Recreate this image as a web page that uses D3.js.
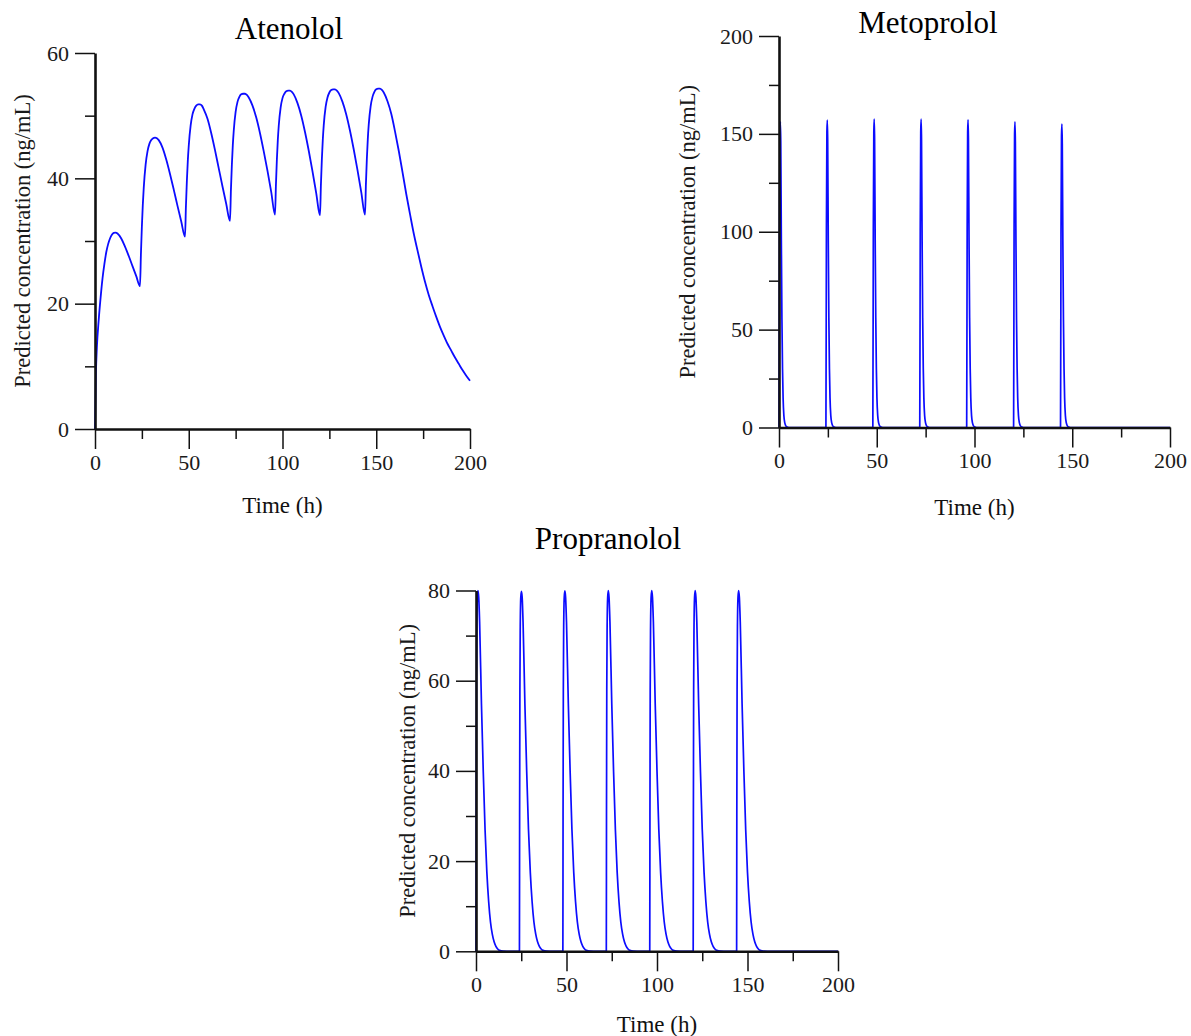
<!DOCTYPE html>
<html>
<head>
<meta charset="utf-8">
<script src="https://cdn.jsdelivr.net/npm/d3@7/dist/d3.min.js"></script>
<style>
  html, body { margin: 0; padding: 0; background: #fff; }
  svg { display: block; }
  text { font-family: "Liberation Serif", "Times New Roman", serif; }
</style>
</head>
<body>
<svg id="chart" width="1191" height="1036"></svg>
<script>
// ---------------- DATA ----------------
const timeMajorTicks = [0, 50, 100, 150, 200];
const timeMinorTicks = [25, 75, 125, 175];

const atenololYMajor = [0, 20, 40, 60];
const atenololYMinor = [10, 30, 50];
const metoprololYMajor = [0, 50, 100, 150, 200];
const metoprololYMinor = [25, 75, 125, 175];
const propranololYMajor = [0, 20, 40, 60, 80];
const propranololYMinor = [10, 30, 50, 70];

const titles = ["Atenolol", "Metoprolol", "Propranolol"];
const xLabel = "Time (h)";
const yLabel = "Predicted concentration (ng/mL)";

// Atenolol: [time h, concentration ng/mL]
const atenololSeries = [
  [0,0],[0.5,9],[1,13],[2,17.5],[3,21],[4,24],[5,26.3],[6,28.2],[7,29.5],[8,30.4],[9,31],[10,31.3],[11,31.35],[12,31.2],[14,30.4],[16,29.1],[18,27.6],[20,26],[22,24.4],[24,22.8],
  [24.5,28],[25,32.3],[25.5,35.8],[26,38.5],[27,42.2],[28,44.3],[29,45.5],[30,46.1],[31,46.4],[32,46.5],[33,46.4],[34,46.1],[36,44.9],[38,43],[40,40.7],[42,38.2],[44,35.6],[46,33.1],[48,30.7],
  [48.5,35.6],[49,39.6],[49.5,42.8],[50,45.2],[51,48.4],[52,50.2],[53,51.1],[54,51.6],[55,51.8],[56,51.8],[57,51.6],[58,51],[60,49.5],[62,47.2],[64,44.5],[66,41.6],[68,38.7],[70,35.9],[72,33.2],
  [72.5,38.2],[73,42.2],[73.5,45.3],[74,47.6],[75,50.6],[76,52.2],[77,53],[78,53.4],[79,53.5],[80,53.5],[81,53.3],[82,52.9],[84,51.6],[86,49.7],[88,47.2],[90,44.3],[92,41.2],[94,37.8],[96,34.2],
  [96.5,39],[97,43],[97.5,46.1],[98,48.4],[99,51.3],[100,52.8],[101,53.5],[102,53.9],[103,54],[104,54],[105,53.8],[106,53.4],[108,52],[110,50],[112,47.4],[114,44.4],[116,41.1],[118,37.6],[120,34.1],
  [120.5,39.1],[121,43.1],[121.5,46.2],[122,48.5],[123,51.4],[124,52.9],[125,53.7],[126,54.1],[127,54.2],[128,54.2],[129,54],[130,53.6],[132,52.2],[134,50.2],[136,47.6],[138,44.6],[140,41.3],[142,37.8],[144,34.2],
  [144.5,39.2],[145,43.2],[145.5,46.3],[146,48.6],[147,51.5],[148,53],[149,53.8],[150,54.2],[151,54.3],[152,54.3],[153,54.1],[154,53.7],[156,52.3],[158,50.3],[160,47.5],[162,44.4],[164,41],[166,37.5],[168,34.3],[170,31.2],[172,28.5],[174,25.9],[176,23.5],[178,21.4],[180,19.6],[182,17.9],[184,16.3],[186,14.9],[188,13.6],[190,12.5],[192,11.4],[194,10.4],[196,9.4],[198,8.5],[200,7.7]
];

// Metoprolol: [time h, concentration ng/mL]
const metoprololSeries = [
  [0,0],[0.25,100],[0.5,150],[0.7,156.2],[0.9,146],[1.2,95],[1.5,55],[1.8,30],[2.1,15],[2.5,6],[3,2.2],[3.5,0.8],[4.2,0.2],[5,0],
  [24,0],[24.25,100],[24.5,151],[24.7,157.1],[24.9,147],[25.2,96],[25.5,56],[25.8,30],[26.1,15],[26.5,6],[27,2.2],[27.5,0.8],[28.2,0.2],[29,0],
  [48,0],[48.25,101],[48.5,151],[48.7,157.6],[48.9,147],[49.2,96],[49.5,56],[49.8,30],[50.1,15],[50.5,6],[51,2.2],[51.5,0.8],[52.2,0.2],[53,0],
  [72,0],[72.25,101],[72.5,151],[72.7,157.5],[72.9,147],[73.2,96],[73.5,56],[73.8,30],[74.1,15],[74.5,6],[75,2.2],[75.5,0.8],[76.2,0.2],[77,0],
  [96,0],[96.25,100],[96.5,151],[96.7,157.2],[96.9,147],[97.2,96],[97.5,56],[97.8,30],[98.1,15],[98.5,6],[99,2.2],[99.5,0.8],[100.2,0.2],[101,0],
  [120,0],[120.25,100],[120.5,150],[120.7,156.2],[120.9,146],[121.2,95],[121.5,55],[121.8,30],[122.1,15],[122.5,6],[123,2.2],[123.5,0.8],[124.2,0.2],[125,0],
  [144,0],[144.25,99],[144.5,149],[144.7,155.0],[144.9,145],[145.2,94],[145.5,55],[145.8,30],[146.1,15],[146.5,6],[147,2.2],[147.5,0.8],[148.2,0.2],[149,0],
  [200,0]
];

// Propranolol: [time h, concentration ng/mL]
const propranololSeries = [
  [0,0],[0.1,30],[0.25,58],[0.45,72],[0.75,78.5],[1.1,80],[1.5,78.5],[2,73],[3,55],[4,40],[5,27],[6,17.5],[7,11],[8,6.5],[9,3.8],[10,2.1],[11,1.1],[12,0.5],[13,0.2],[15,0.03],[17,0],
  [24,0],[24.1,30],[24.25,58],[24.45,72],[24.75,78.5],[25.1,79.8],[25.5,78.5],[26,73],[27,55],[28,40],[29,27],[30,17.5],[31,11],[32,6.5],[33,3.8],[34,2.1],[35,1.1],[36,0.5],[37,0.2],[39,0.03],[41,0],
  [48,0],[48.1,30],[48.25,58],[48.45,72],[48.75,78.5],[49.1,79.9],[49.5,78.5],[50,73],[51,55],[52,40],[53,27],[54,17.5],[55,11],[56,6.5],[57,3.8],[58,2.1],[59,1.1],[60,0.5],[61,0.2],[63,0.03],[65,0],
  [72,0],[72.1,30],[72.25,58],[72.45,72],[72.75,78.5],[73.1,80],[73.5,78.5],[74,73],[75,55],[76,40],[77,27],[78,17.5],[79,11],[80,6.5],[81,3.8],[82,2.1],[83,1.1],[84,0.5],[85,0.2],[87,0.03],[89,0],
  [96,0],[96.1,30],[96.25,58],[96.45,72],[96.75,78.5],[97.1,80],[97.5,78.5],[98,73],[99,55],[100,40],[101,27],[102,17.5],[103,11],[104,6.5],[105,3.8],[106,2.1],[107,1.1],[108,0.5],[109,0.2],[111,0.03],[113,0],
  [120,0],[120.1,30],[120.25,58],[120.45,72],[120.75,78.5],[121.1,80],[121.5,78.5],[122,73],[123,55],[124,40],[125,27],[126,17.5],[127,11],[128,6.5],[129,3.8],[130,2.1],[131,1.1],[132,0.5],[133,0.2],[135,0.03],[137,0],
  [144,0],[144.1,30],[144.25,58],[144.45,72],[144.75,78.5],[145.1,80],[145.5,78.5],[146,73],[147,55],[148,40],[149,27],[150,17.5],[151,11],[152,6.5],[153,3.8],[154,2.1],[155,1.1],[156,0.5],[157,0.2],[159,0.03],[161,0],
  [200,0]
];

// ---------------- LAYOUT ----------------
const svg = d3.select("#chart");

const panels = [
  { title: titles[0], data: atenololSeries, yMax: 60, yMajor: atenololYMajor, yMinor: atenololYMinor,
    x0: 95, x1: 470, yBottom: 429, yTop: 53, titleX: 289, titleY: 38.5, xLabelY: 513, yLabelX: 22, lw: 1.8 },
  { title: titles[1], data: metoprololSeries, yMax: 200, yMajor: metoprololYMajor, yMinor: metoprololYMinor,
    x0: 779, x1: 1170, yBottom: 427.5, yTop: 36, titleX: 928, titleY: 33, xLabelY: 515, yLabelX: 687, lw: 1.7 },
  { title: titles[2], data: propranololSeries, yMax: 80, yMajor: propranololYMajor, yMinor: propranololYMinor,
    x0: 476, x1: 838, yBottom: 951.3, yTop: 590.5, titleX: 608, titleY: 549, xLabelY: 1032, yLabelX: 407, lw: 1.7 }
];

panels.forEach(p => {
  const x = d3.scaleLinear().domain([0, 200]).range([p.x0, p.x1]);
  const y = d3.scaleLinear().domain([0, p.yMax]).range([p.yBottom, p.yTop]);
  const g = svg.append("g");

  // line
  const line = d3.line().x(d => x(d[0])).y(d => y(d[1])).curve(d3.curveMonotoneX);
  g.append("path")
    .datum(p.data)
    .attr("d", line)
    .attr("fill", "none")
    .attr("stroke", "#0c0cff")
    .attr("stroke-width", p.lw)
    .attr("stroke-linejoin", "round");

  // minor ticks
  const yMinorAxis = d3.axisLeft(y).tickValues(p.yMinor).tickSize(10).tickFormat("");
  const xMinorAxis = d3.axisBottom(x).tickValues(timeMinorTicks).tickSize(10).tickFormat("");
  const ymg = g.append("g").attr("transform", `translate(${p.x0},0)`).call(yMinorAxis);
  const xmg = g.append("g").attr("transform", `translate(0,${p.yBottom})`).call(xMinorAxis);
  [ymg, xmg].forEach(a => { a.select(".domain").remove(); a.selectAll("line").attr("stroke", "#111").attr("stroke-width", 1.5); });

  // major axes
  const yAxis = d3.axisLeft(y).tickValues(p.yMajor).tickSize(20).tickSizeOuter(0).tickPadding(6).tickFormat(d3.format("d"));
  const xAxis = d3.axisBottom(x).tickValues(timeMajorTicks).tickSize(20).tickSizeOuter(0).tickPadding(5).tickFormat(d3.format("d"));
  const yg = g.append("g").attr("transform", `translate(${p.x0},0)`).call(yAxis);
  const xg = g.append("g").attr("transform", `translate(0,${p.yBottom})`).call(xAxis);
  [yg, xg].forEach(a => {
    a.select(".domain").attr("stroke", "#111").attr("stroke-width", 2.6);
    a.selectAll(".tick line").attr("stroke", "#111").attr("stroke-width", 1.5);
    a.selectAll(".tick text")
      .attr("fill", "#1a1a1a")
      .style("font-family", '"Liberation Serif", "Times New Roman", serif')
      .style("font-size", "22px");
  });

  // title
  svg.append("text")
    .attr("x", p.titleX).attr("y", p.titleY)
    .attr("text-anchor", "middle")
    .attr("fill", "#000")
    .style("font-size", "31px")
    .text(p.title);

  // x label
  svg.append("text")
    .attr("x", (p.x0 + p.x1) / 2).attr("y", p.xLabelY)
    .attr("text-anchor", "middle")
    .attr("fill", "#111")
    .style("font-size", "23px")
    .text(xLabel);

  // y label
  svg.append("text")
    .attr("transform", `translate(${p.yLabelX},${(p.yBottom + p.yTop) / 2}) rotate(-90)`)
    .attr("dy", "0.35em")
    .attr("text-anchor", "middle")
    .attr("fill", "#1a1a1a")
    .style("font-size", "22.5px")
    .text(yLabel);
});
</script>
</body>
</html>
